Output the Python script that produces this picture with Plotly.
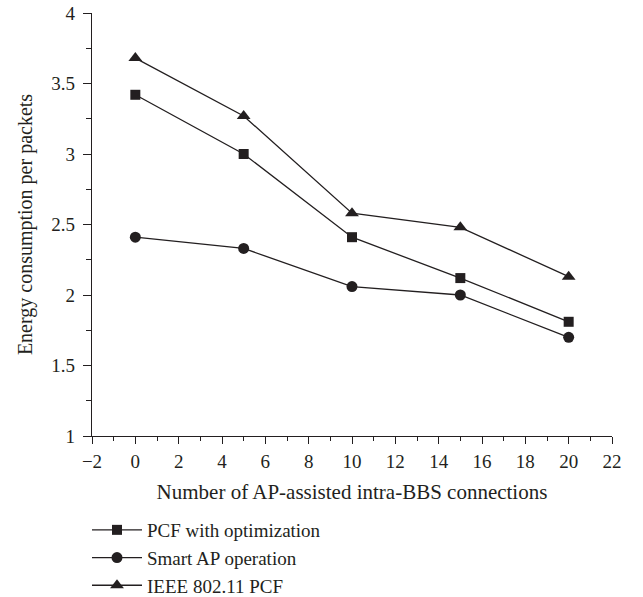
import plotly.graph_objects as go

x_vals = [0, 5, 10, 15, 20]
pcf_opt = [3.42, 3.00, 2.41, 2.12, 1.81]
smart_ap = [2.41, 2.33, 2.06, 2.00, 1.70]
ieee_pcf = [3.68, 3.27, 2.58, 2.48, 2.13]
series_names = ["PCF with optimization", "Smart AP operation", "IEEE 802.11 PCF"]
x_title = "Number of AP-assisted intra-BBS connections"
y_title = "Energy consumption per packets"

FONT = "Liberation Serif, Times New Roman, serif"
col = "#231f20"

fig = go.Figure()
for name, ys, sym, sz in [
    (series_names[0], pcf_opt, "square", 10),
    (series_names[1], smart_ap, "circle", 11),
    (series_names[2], ieee_pcf, "triangle-up", 12),
]:
    fig.add_trace(go.Scatter(
        x=x_vals, y=ys, name=name, mode="lines+markers",
        line=dict(color=col, width=1.3),
        marker=dict(symbol=sym, size=sz, color=col),
    ))

fig.update_layout(
    width=643, height=597,
    margin=dict(l=92, r=31, t=13, b=161, autoexpand=False),
    paper_bgcolor="white", plot_bgcolor="white",
    font=dict(family=FONT, size=19, color=col),
    showlegend=True,
    legend=dict(
        x=-5 / 520, y=(436 - 511) / 423,
        xanchor="left", yanchor="top",
        font=dict(family=FONT, size=19, color=col),
        tracegroupgap=0, itemwidth=50, bgcolor="rgba(0,0,0,0)",
        borderwidth=0,
    ),
    xaxis=dict(
        range=[-2, 22], tickmode="linear", tick0=-2, dtick=2,
        showline=True, linecolor=col, linewidth=1.3,
        ticks="outside", ticklen=7, tickwidth=1.2, tickcolor=col,
        ticklabelstandoff=1,
        minor=dict(ticks="outside", ticklen=4, dtick=1, tick0=-2, tickcolor=col, tickwidth=1.2),
        showgrid=False, zeroline=False, automargin=False,
        tickfont=dict(family=FONT, size=19, color=col),
        title=dict(text=x_title, font=dict(family=FONT, size=21, color=col), standoff=13),
    ),
    yaxis=dict(
        range=[1, 4], tickmode="linear", tick0=1, dtick=0.5,
        showline=True, linecolor=col, linewidth=1.3,
        ticks="outside", ticklen=8, tickwidth=1.2, tickcolor=col,
        ticklabelstandoff=4,
        minor=dict(ticks="outside", ticklen=5, dtick=0.25, tick0=1, tickcolor=col, tickwidth=1.2),
        showgrid=False, zeroline=False, automargin=False,
        tickfont=dict(family=FONT, size=19, color=col),
        title=dict(text=y_title, font=dict(family=FONT, size=20, color=col), standoff=13),
    ),
)

fig.write_html("out.html")
